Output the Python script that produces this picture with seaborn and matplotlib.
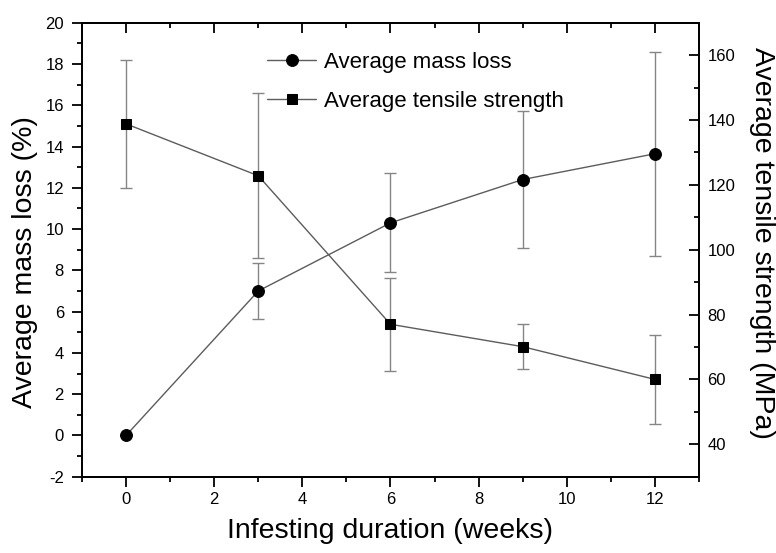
import matplotlib
matplotlib.use("Agg")
import matplotlib.pyplot as plt
from matplotlib.ticker import MultipleLocator
import seaborn as sns

# ── Data ─────────────────────────────────────────────────────
weeks = [0, 3, 6, 9, 12]
mass_loss = [0.0, 7.0, 10.3, 12.4, 13.65]          # %
mass_loss_err = [0.0, 1.35, 2.4, 3.3, 4.95]
tensile = [138.8, 122.8, 77.0, 70.1, 60.0]          # MPa
tensile_err = [19.7, 25.4, 14.3, 6.9, 13.7]

x_ticks = [0, 2, 4, 6, 8, 10, 12]
left_ticks = [-2, 0, 2, 4, 6, 8, 10, 12, 14, 16, 18, 20]
right_ticks = [40, 60, 80, 100, 120, 140, 160]

# ── Style ────────────────────────────────────────────────────
sns.set_theme(style="ticks")
plt.rcParams["font.family"] = ["Liberation Sans", "DejaVu Sans"]
plt.rcParams["axes.linewidth"] = 1.3
plt.rcParams["axes.unicode_minus"] = False
plt.rcParams["text.color"] = "black"
plt.rcParams["axes.labelcolor"] = "black"
plt.rcParams["xtick.color"] = "black"
plt.rcParams["ytick.color"] = "black"

LINE_C = "#5c5c5c"
ERR_C = "#858585"

fig = plt.figure(figsize=(7.76, 5.53), dpi=100)
ax = fig.add_axes([82 / 776, 1 - 476.7 / 553, 617 / 776, 454 / 553])
ax2 = ax.twinx()

# error bars first, markers on top
ax.errorbar(weeks, mass_loss, yerr=mass_loss_err, fmt="none", ecolor=ERR_C,
            elinewidth=1.0, capsize=4, capthick=1.0, zorder=2)
ax2.errorbar(weeks, tensile, yerr=tensile_err, fmt="none", ecolor=ERR_C,
             elinewidth=1.0, capsize=4, capthick=1.0, zorder=2)

sns.lineplot(x=weeks, y=mass_loss, ax=ax, color=LINE_C, linewidth=1.0,
             marker="o", markersize=8.5, markerfacecolor="black",
             markeredgecolor="black", errorbar=None, legend=False,
             label="Average mass loss", zorder=3)
h1 = ax.lines[-1]
sns.lineplot(x=weeks, y=tensile, ax=ax2, color=LINE_C, linewidth=1.0,
             marker="s", markersize=7.7, markerfacecolor="black",
             markeredgecolor="black", errorbar=None, legend=False,
             label="Average tensile strength", zorder=3)
h2 = ax2.lines[-1]

# ── Axes limits / ticks ──────────────────────────────────────
ax.set_xlim(-1, 13)
ax.set_ylim(-2, 20)
ax2.set_ylim(30, 170)

ax.set_xticks(x_ticks)
ax.xaxis.set_minor_locator(MultipleLocator(1))
ax.set_yticks(left_ticks)
ax.yaxis.set_minor_locator(MultipleLocator(1))
ax2.set_yticks(right_ticks)
ax2.yaxis.set_minor_locator(MultipleLocator(10))

ax.tick_params(axis="both", which="major", direction="out", length=7,
               width=1.3, labelsize=12, colors="black", pad=4)
ax.tick_params(axis="both", which="minor", direction="out", length=3.8,
               width=1.3)
ax.tick_params(axis="y", which="major", pad=6)
ax.tick_params(axis="y", which="both", right=False)
ax.tick_params(axis="x", which="both", top=False)

ax2.tick_params(axis="y", which="major", direction="in", length=7,
                width=1.3, labelsize=12, pad=6, colors="black")
ax2.tick_params(axis="y", which="minor", direction="in", length=3.8,
                width=1.3)

# inward ticks on the top edge
top = ax.secondary_xaxis("top")
top.set_xticks(x_ticks)
top.xaxis.set_minor_locator(MultipleLocator(1))
top.tick_params(which="major", direction="in", length=7, width=1.3,
                labeltop=False)
top.tick_params(which="minor", direction="in", length=3.8, width=1.3)
top.spines["top"].set_linewidth(1.3)

for spine in list(ax.spines.values()) + list(ax2.spines.values()):
    spine.set_color("black")
    spine.set_linewidth(1.3)

# ── Labels ───────────────────────────────────────────────────
ax.set_xlabel("Infesting duration (weeks)", fontsize=20.5, labelpad=8)
ax.set_ylabel("Average mass loss (%)", fontsize=20.5)
ax.yaxis.set_label_coords(-0.0924, 0.473)
ax.yaxis.label.set(va="center", ha="center")
ax2.set_ylabel("Average tensile strength (MPa)", fontsize=20.5, rotation=270)
ax2.yaxis.set_label_coords(1.1016, 0.515)
ax2.yaxis.label.set(va="center", ha="center")

ax2.legend([h1, h2], ["Average mass loss", "Average tensile strength"],
           loc="upper left", bbox_to_anchor=(0.300, 0.935), frameon=False,
           fontsize=16, handlelength=2.2, handletextpad=0.35,
           labelspacing=0.78, borderpad=0, borderaxespad=0)

fig.savefig("out.png", dpi=100)
